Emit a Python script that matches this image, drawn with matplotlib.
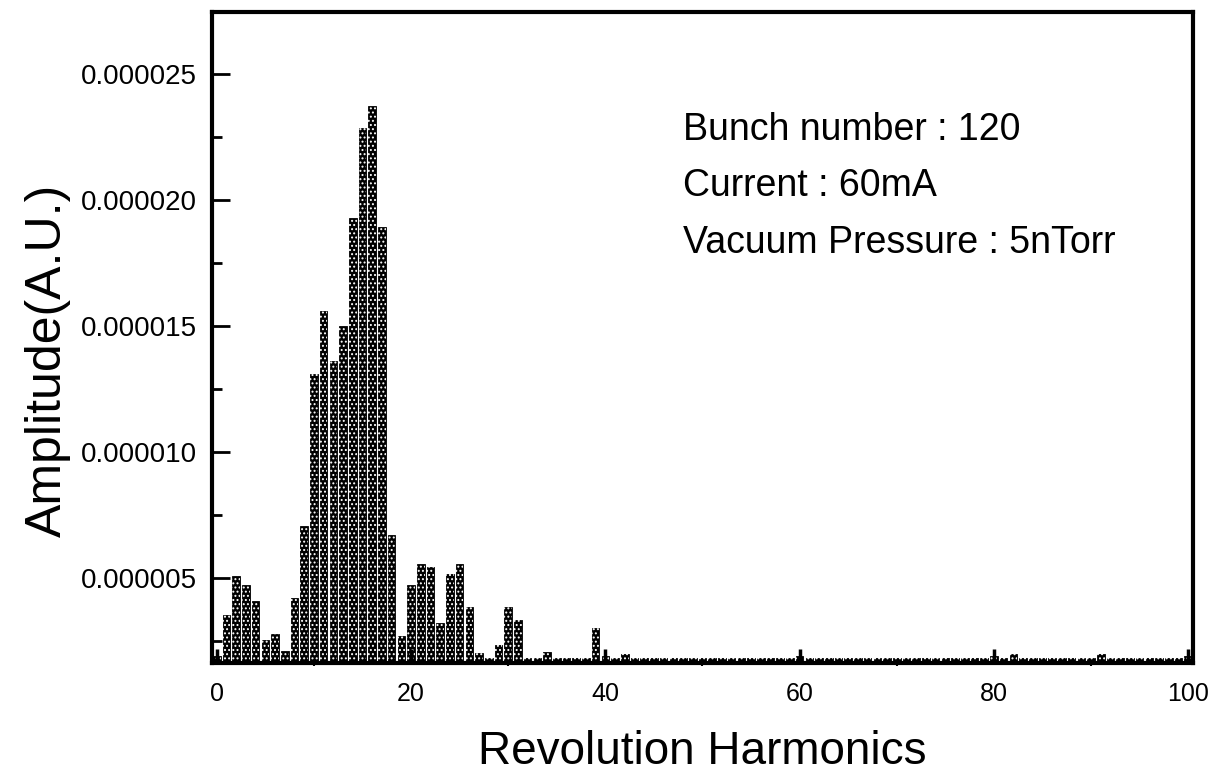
import matplotlib.pyplot as plt
from matplotlib.ticker import MultipleLocator, FuncFormatter

plt.rcParams["font.family"] = ["Liberation Sans", "DejaVu Sans"]
plt.rcParams["hatch.linewidth"] = 0.9

# Revolution harmonic number 0..100 and amplitude (x 1e-6, A.U.)
harmonics = list(range(101))
amp_e6 = [
    1.90, 3.55, 5.08, 4.72, 4.09, 2.53, 2.78, 2.12, 4.21, 7.05,
    13.11, 15.58, 13.61, 15.00, 19.28, 22.87, 23.74, 18.91, 6.69, 2.72,
    4.72, 5.55, 5.45, 3.20, 5.16, 5.56, 3.86, 2.04, 1.84, 2.33,
    3.86, 3.33, 1.84, 1.84, 2.06, 1.84, 1.84, 1.84, 1.84, 3.00,
    1.90, 1.84, 2.00, 1.84, 1.84, 1.84, 1.84, 1.84, 1.84, 1.84,
    1.84, 1.84, 1.84, 1.84, 1.84, 1.84, 1.84, 1.84, 1.84, 1.84,
    1.90, 1.84, 1.84, 1.84, 1.84, 1.84, 1.84, 1.84, 1.84, 1.84,
    1.84, 1.84, 1.84, 1.84, 1.84, 1.84, 1.84, 1.84, 1.84, 1.84,
    1.90, 1.84, 2.00, 1.84, 1.84, 1.84, 1.84, 1.84, 1.84, 1.84,
    1.84, 2.00, 1.84, 1.84, 1.84, 1.84, 1.84, 1.84, 1.84, 1.84,
    1.90,
]
amplitude = [a * 1e-6 for a in amp_e6]

info_lines = ["Bunch number : 120", "Current : 60mA", "Vacuum Pressure : 5nTorr"]

fig = plt.figure(figsize=(12.23, 7.80), dpi=100)
ax = fig.add_axes([0.1733, 0.15, 0.8022, 0.8346])

# dark bars with a fine white dot texture
ax.bar(harmonics, amplitude, width=0.78, color="black", edgecolor="black", linewidth=0.6)
ax.bar(harmonics, amplitude, width=0.78, fill=False, edgecolor="white", linewidth=0, hatch="....")

ax.set_xlim(-0.5, 100.5)
ax.set_ylim(1.63e-6, 27.46e-6)

ax.xaxis.set_major_locator(MultipleLocator(20))
ax.xaxis.set_minor_locator(MultipleLocator(10))
ax.yaxis.set_major_locator(MultipleLocator(5e-6))
ax.yaxis.set_minor_locator(MultipleLocator(2.5e-6))
ax.yaxis.set_major_formatter(FuncFormatter(lambda v, p: f"{v:.6f}"))

ax.tick_params(axis="y", which="major", direction="in", length=13, width=2, labelsize=20, pad=11)
ax.tick_params(axis="y", which="minor", direction="in", length=7, width=2)
ax.tick_params(axis="x", which="major", direction="in", length=10, width=2.5, labelsize=18, pad=14)
ax.tick_params(axis="x", which="minor", direction="inout", length=5, width=1.5)

for s in ax.spines.values():
    s.set_linewidth(3)

ax.set_xlabel("Revolution Harmonics", fontsize=33, labelpad=17)
ax.set_ylabel("Amplitude(A.U.)", fontsize=36)
ax.yaxis.set_label_coords(-0.144, 0.465)

for i, line in enumerate(info_lines):
    ax.text(0.48, 0.819 - i * 0.087, line, transform=ax.transAxes, fontsize=27,
            ha="left", va="center")

fig.savefig("out.png", dpi=100)
